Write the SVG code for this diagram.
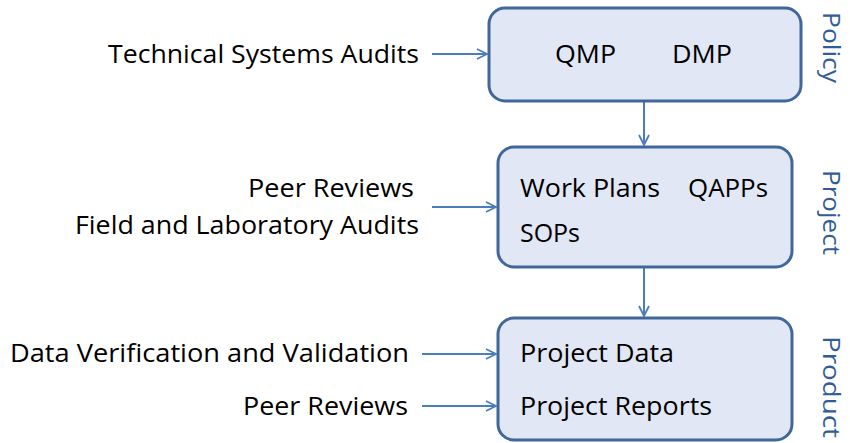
<svg xmlns="http://www.w3.org/2000/svg" width="850" height="443" viewBox="0 0 850 443">
  <defs>
    <marker id="arrow" viewBox="0 0 12 12" refX="11" refY="6" markerWidth="12" markerHeight="12" markerUnits="userSpaceOnUse" orient="auto">
      <path d="M1,1 L11,6 L1,11" fill="none" stroke="#4a7ebb" stroke-width="1.8"/>
    </marker>
  </defs>
  <style>
    .box { fill: #e1e7f5; stroke: #41679a; stroke-width: 3; }
    .t { font-family: "Open Sans", "Liberation Sans", sans-serif; font-size: 25px; fill: #000; }
    .side { font-family: "Open Sans", "Liberation Sans", sans-serif; font-size: 24px; fill: #2f5d98; }
    .conn { stroke: #4a7ebb; stroke-width: 2; fill: none; marker-end: url(#arrow); }
  </style>
  <rect width="850" height="443" fill="#fff"/>

  <g id="connectors">
    <line class="conn" x1="432" y1="54" x2="487" y2="54"/>
    <line class="conn" x1="644" y1="102" x2="644" y2="145"/>
    <line class="conn" x1="432" y1="207" x2="496" y2="207"/>
    <line class="conn" x1="644" y1="268" x2="644" y2="316"/>
    <line class="conn" x1="422" y1="354" x2="496" y2="354"/>
    <line class="conn" x1="422" y1="406" x2="496" y2="406"/>
  </g>

  <g id="policy">
    <rect class="box" x="489" y="8" width="312" height="93" rx="16"/>
    <text class="t" x="555" y="63" textLength="61" lengthAdjust="spacingAndGlyphs">QMP</text>
    <text class="t" x="672" y="63" textLength="60" lengthAdjust="spacingAndGlyphs">DMP</text>
  </g>

  <g id="project">
    <rect class="box" x="498" y="147" width="294" height="120" rx="16"/>
    <text class="t" x="520" y="197" textLength="140" lengthAdjust="spacingAndGlyphs">Work Plans</text>
    <text class="t" x="688" y="197" textLength="80" lengthAdjust="spacingAndGlyphs">QAPPs</text>
    <text class="t" x="520" y="242" textLength="60" lengthAdjust="spacingAndGlyphs">SOPs</text>
  </g>

  <g id="product">
    <rect class="box" x="498" y="318" width="294" height="122" rx="16"/>
    <text class="t" x="520" y="362" textLength="154" lengthAdjust="spacingAndGlyphs">Project Data</text>
    <text class="t" x="520" y="415" textLength="192" lengthAdjust="spacingAndGlyphs">Project Reports</text>
  </g>

  <g id="inputs">
    <text class="t" x="108" y="63" textLength="311" lengthAdjust="spacingAndGlyphs">Technical Systems Audits</text>
    <text class="t" x="248" y="197" textLength="166" lengthAdjust="spacingAndGlyphs">Peer Reviews</text>
    <text class="t" x="75" y="234" textLength="344" lengthAdjust="spacingAndGlyphs">Field and Laboratory Audits</text>
    <text class="t" x="10" y="362" textLength="399" lengthAdjust="spacingAndGlyphs">Data Verification and Validation</text>
    <text class="t" x="243" y="415" textLength="165" lengthAdjust="spacingAndGlyphs">Peer Reviews</text>
  </g>

  <g id="levels">
    <text class="side" transform="translate(823,12) rotate(90)" textLength="71" lengthAdjust="spacingAndGlyphs">Policy</text>
    <text class="side" transform="translate(823,170) rotate(90)" textLength="85" lengthAdjust="spacingAndGlyphs">Project</text>
    <text class="side" transform="translate(823,336) rotate(90)" textLength="102" lengthAdjust="spacingAndGlyphs">Product</text>
  </g>
</svg>
